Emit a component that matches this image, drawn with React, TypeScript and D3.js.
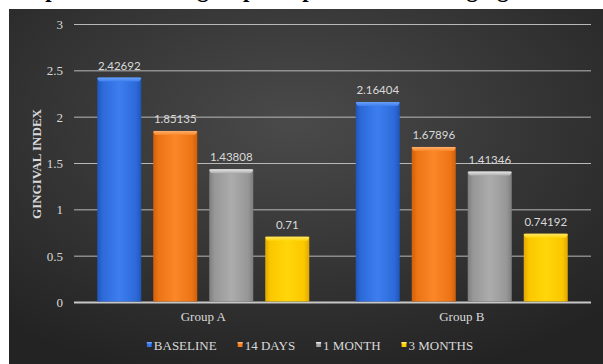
import React from "react";
import * as d3 from "d3";

const groups = ["Group A", "Group B"];
const seriesNames = ["BASELINE", "14 DAYS", "1 MONTH", "3 MONTHS"];
const baselineValues = [2.42692, 2.16404];
const days14Values = [1.85135, 1.67896];
const month1Values = [1.43808, 1.41346];
const months3Values = [0.71, 0.74192];
const yTicks = [0, 0.5, 1, 1.5, 2, 2.5, 3];
const yAxisTitle = "GINGIVAL INDEX";
const chartTitle = "Comparison of intergroup comparison of mean gingival index";

const seriesValues = [baselineValues, days14Values, month1Values, months3Values];

const W = 603;
const H = 364;
const palette = [
  { dark: "#1f55b8", base: "#2d6ad9", light: "#3c7ef0", top: "#6aa0f5" },
  { dark: "#d0600a", base: "#ec7415", light: "#fb8728", top: "#fbb070" },
  { dark: "#7e7e7e", base: "#979797", light: "#acacac", top: "#e8e8e8" },
  { dark: "#e0a800", base: "#fbc700", light: "#ffd60a", top: "#ffe766" },
];

const serif = "'Liberation Serif', 'Times New Roman', serif";
const labelFont = "Lato, 'Open Sans', sans-serif";
const txt = "#d9d9d9";

function measure(text: string, font: string): number {
  try {
    const ctx = document.createElement("canvas").getContext("2d");
    if (!ctx) return text.length * 7;
    ctx.font = font;
    return ctx.measureText(text).width;
  } catch (e) {
    return text.length * 7;
  }
}

export default function App() {
  const left = 74;
  const right = 591;
  const y = d3.scaleLinear().domain([0, 3]).range([302.5, 24.5]);
  const x0 = d3.scaleBand<string>().domain(groups).range([left, right]).padding(0);
  const x1 = d3
    .scaleBand<string>()
    .domain(seriesNames)
    .range([0, x0.bandwidth()])
    .paddingInner(0.214)
    .paddingOuter(0.415);

  // legend layout
  const legendFont = `13px ${serif}`;
  const markerW = 7;
  const itemGap = 21;
  const widths = seriesNames.map((s) => markerW + measure(s, legendFont));
  const total = d3.sum(widths) + itemGap * (seriesNames.length - 1);
  let cursor = 310 - total / 2;
  const legendX = widths.map((w) => {
    const p = cursor;
    cursor += w + itemGap;
    return p;
  });

  return (
    <div style={{ position: "absolute", left: 0, top: 0 }}>
      <svg width={W} height={H} style={{ display: "block" }}>
        <defs>
          <radialGradient id="bg" cx="48%" cy="32%" r="75%">
            <stop offset="0%" stopColor="#4a4a4a" />
            <stop offset="100%" stopColor="#232323" />
          </radialGradient>
          {palette.map((c, i) => (
            <linearGradient key={i} id={`bar${i}`} x1="0" x2="1" y1="0" y2="0">
              <stop offset="0%" stopColor={c.dark} />
              <stop offset="12%" stopColor={c.base} />
              <stop offset="50%" stopColor={c.light} />
              <stop offset="88%" stopColor={c.base} />
              <stop offset="100%" stopColor={c.dark} />
            </linearGradient>
          ))}
          {palette.map((c, i) => (
            <linearGradient key={i} id={`cap${i}`} x1="0" x2="0" y1="0" y2="1">
              <stop offset="0%" stopColor={c.top} />
              <stop offset="100%" stopColor={c.light} />
            </linearGradient>
          ))}
        </defs>
        <rect x={0} y={0} width={W} height={H} fill="#ffffff" />
        <text
          x={-2}
          y={-3}
          fontFamily={serif}
          fontWeight="bold"
          fontSize={23}
          fill="#000"
        >
          {chartTitle}
        </text>
        <rect x={9} y={9} width={W - 9} height={H - 9} fill="url(#bg)" />

        {/* gridlines */}
        {yTicks.map((t) => (
          <line
            key={t}
            x1={left}
            x2={right}
            y1={y(t)}
            y2={y(t)}
            stroke={t === 0 ? "#c8c8c8" : "#b8b8b8"}
            strokeWidth={t === 0 ? 2 : 1}
          />
        ))}
        {yTicks.map((t) => (
          <text
            key={t}
            x={63}
            y={y(t)}
            textAnchor="end"
            dominantBaseline="central"
            fontFamily={serif}
            fontSize={13}
            fill={txt}
          >
            {t}
          </text>
        ))}
        <text
          transform={`translate(36,164) rotate(-90)`}
          textAnchor="middle"
          dominantBaseline="central"
          fontFamily={serif}
          fontWeight="bold"
          fontSize={13}
          fill={txt}
        >
          {yAxisTitle}
        </text>

        {/* bars */}
        {groups.map((g, gi) =>
          seriesNames.map((s, si) => {
            const v = seriesValues[si][gi];
            const bx = (x0(g) as number) + (x1(s) as number);
            const bw = x1.bandwidth();
            const top = y(v);
            const bottom = y(0) - 1;
            return (
              <g key={g + s}>
                <rect x={bx} y={top} width={bw} height={bottom - top} fill={`url(#bar${si})`} />
                <path
                  d={`M${bx},${top + 1} L${bx + 1},${top} L${bx + bw - 1},${top} L${bx + bw},${top + 1} L${bx + bw - 2},${top + 4} L${bx + 2},${top + 4} Z`}
                  fill={`url(#cap${si})`}
                />
                <text
                  x={bx + bw / 2}
                  y={top - 8}
                  textAnchor="middle"
                  fontFamily={labelFont}
                  fontSize={11.5}
                  fill={txt}
                >
                  {v}
                </text>
              </g>
            );
          })
        )}

        {/* category labels */}
        {groups.map((g) => (
          <text
            key={g}
            x={(x0(g) as number) + x0.bandwidth() / 2}
            y={321}
            textAnchor="middle"
            fontFamily={serif}
            fontSize={13}
            fill={txt}
          >
            {g}
          </text>
        ))}

        {/* legend */}
        {seriesNames.map((s, i) => (
          <g key={s}>
            <rect x={legendX[i]} y={342} width={5} height={5} fill={`url(#bar${i})`} />
            <rect x={legendX[i]} y={342} width={5} height={1.5} fill={palette[i].top} />
            <text
              x={legendX[i] + markerW}
              y={349.5}
              fontFamily={serif}
              fontSize={13}
              fill={txt}
            >
              {s}
            </text>
          </g>
        ))}
      </svg>
    </div>
  );
}
